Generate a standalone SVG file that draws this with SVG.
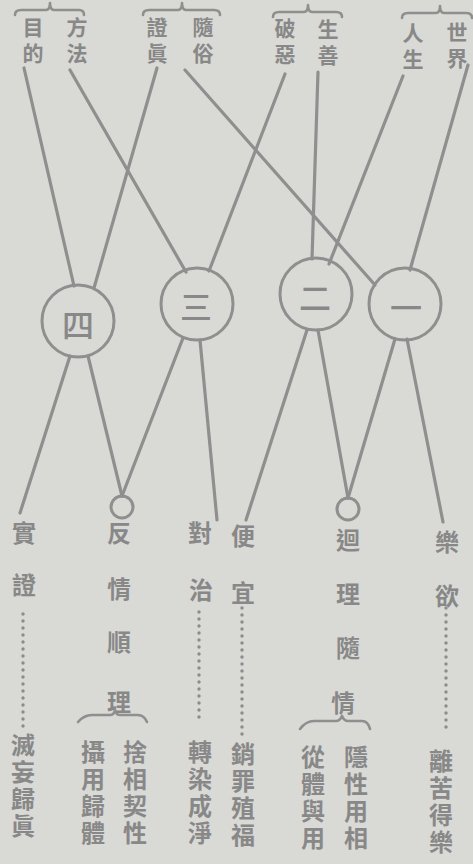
<svg xmlns="http://www.w3.org/2000/svg" width="473" height="864" viewBox="0 0 473 864">
<style>
.ln{stroke:#8f8f8f;stroke-width:3.2;fill:none;stroke-linecap:round}
.cir{stroke:#8f8f8f;stroke-width:3;fill:none}
.br{stroke:#8f8f8f;stroke-width:2.6;fill:none;stroke-linecap:round;stroke-linejoin:round}
.dot{stroke:#8c8c8c;stroke-width:3.4;fill:none;stroke-linecap:round;stroke-dasharray:0 7}
text{font-family:"Noto Sans CJK TC","Noto Sans CJK JP",sans-serif;fill:#888888;font-weight:700}
.s{text-anchor:middle;dominant-baseline:central}
.v{writing-mode:vertical-rl;text-anchor:start}
.t{font-size:21px;letter-spacing:5px}
.b{font-size:24px}
.vb{font-size:24px;letter-spacing:3px}
.n{font-size:32px;font-weight:500}
</style>
<rect width="473" height="864" fill="#d9d9d5"/>

<g id="connectors">
<line class="ln" x1="24" y1="68" x2="74" y2="286"/>
<line class="ln" x1="157" y1="68" x2="94" y2="288"/>
<line class="ln" x1="70" y1="70" x2="186" y2="272"/>
<line class="ln" x1="285" y1="74" x2="209" y2="271"/>
<line class="ln" x1="185" y1="70" x2="375" y2="285"/>
<line class="ln" x1="318" y1="72" x2="312" y2="259"/>
<line class="ln" x1="403" y1="76" x2="329" y2="264"/>
<line class="ln" x1="468" y1="65" x2="410" y2="270"/>
<line class="ln" x1="70" y1="356" x2="20" y2="513"/>
<line class="ln" x1="88" y1="356" x2="122" y2="496"/>
<line class="ln" x1="183" y1="338" x2="122" y2="496"/>
<line class="ln" x1="200" y1="340" x2="217" y2="520"/>
<line class="ln" x1="307" y1="330" x2="246" y2="520"/>
<line class="ln" x1="318" y1="330" x2="348" y2="498"/>
<line class="ln" x1="395" y1="339" x2="348" y2="498"/>
<line class="ln" x1="407" y1="339" x2="443" y2="522"/>
<line class="dot" x1="23" y1="614" x2="23" y2="728"/>
<line class="dot" x1="199" y1="612" x2="199" y2="724"/>
<line class="dot" x1="242" y1="608" x2="242" y2="737"/>
<line class="dot" x1="446" y1="608" x2="446" y2="733"/>
</g>

<g id="top-1">
<path class="br" d="M15,15 Q15,10 21,10 L46,10 Q50,10 50,3 Q50,10 54,10 L79,10 Q84,10 84,15"/>
<text class="v t" x="33" y="17">目的</text>
<text class="v t" x="77" y="17">方法</text>
</g>
<g id="top-2">
<path class="br" d="M143,15 Q143,10 149,10 L178,10 Q182,10 182,3 Q182,10 186,10 L214,10 Q220,10 220,15"/>
<text class="v t" x="157" y="17">證眞</text>
<text class="v t" x="203" y="17">隨俗</text>
</g>
<g id="top-3">
<path class="br" d="M273,17 Q273,12 279,12 L304,12 Q308,12 308,5 Q308,12 312,12 L336,12 Q342,12 342,17"/>
<text class="v t" x="285" y="18">破惡</text>
<text class="v t" x="328" y="19">生善</text>
</g>
<g id="top-4">
<path class="br" d="M402,18 Q402,13 408,13 L436,13 Q440,13 440,6 Q440,13 444,13 L466,13 Q472,13 472,18"/>
<text class="v t" x="413" y="23">人生</text>
<text class="v t" x="457" y="22">世界</text>
</g>

<g id="node-4"><circle class="cir" cx="78" cy="321" r="36"/><text class="s n" x="78" y="323">四</text></g>
<g id="node-3"><circle class="cir" cx="197" cy="304" r="36"/><text class="s n" x="196" y="305">三</text></g>
<g id="node-2"><circle class="cir" cx="316" cy="294" r="36"/><text class="s n" x="315" y="296">二</text></g>
<g id="node-1"><circle class="cir" cx="405" cy="304" r="36"/><text class="s n" x="406" y="306">一</text></g>

<g id="knot-1"><circle class="cir" cx="122" cy="507" r="11"/></g>
<g id="knot-2"><circle class="cir" cx="348" cy="509" r="11"/></g>

<g id="col-1">
<text class="s b" x="24" y="531">實</text><text class="s b" x="24" y="583">證</text>
<text class="v vb" x="23" y="733">滅妄歸眞</text>
</g>
<g id="col-2">
<text class="s b" x="119" y="531">反</text><text class="s b" x="119" y="587">情</text><text class="s b" x="119" y="640">順</text><text class="s b" x="119" y="700">理</text>
<path class="br" d="M78,722 Q84,715 92,715 L110,715 Q114,715 115,710 Q116,715 120,715 L138,715 Q144,715 147,722"/>
<text class="v vb" x="93" y="740">攝用歸體</text>
<text class="v vb" x="135" y="740">捨相契性</text>
</g>
<g id="col-3">
<text class="s b" x="200" y="531">對</text><text class="s b" x="201" y="588">治</text>
<text class="v vb" x="200" y="740">轉染成淨</text>
</g>
<g id="col-4">
<text class="s b" x="243" y="534">便</text><text class="s b" x="243" y="591">宜</text>
<text class="v vb" x="243" y="742">銷罪殖福</text>
</g>
<g id="col-5">
<text class="s b" x="348" y="538">迴</text><text class="s b" x="348" y="592">理</text><text class="s b" x="348" y="646">隨</text><text class="s b" x="343" y="701">情</text>
<path class="br" d="M300,729 Q306,721 314,721 L336,721 Q340,721 342,716 Q344,721 348,721 L362,721 Q368,721 370,729"/>
<text class="v vb" x="313" y="745">從體與用</text>
<text class="v vb" x="356" y="745">隱性用相</text>
</g>
<g id="col-6">
<text class="s b" x="447" y="540">樂</text><text class="s b" x="447" y="594">欲</text>
<text class="v vb" x="441" y="749">離苦得樂</text>
</g>
</svg>
